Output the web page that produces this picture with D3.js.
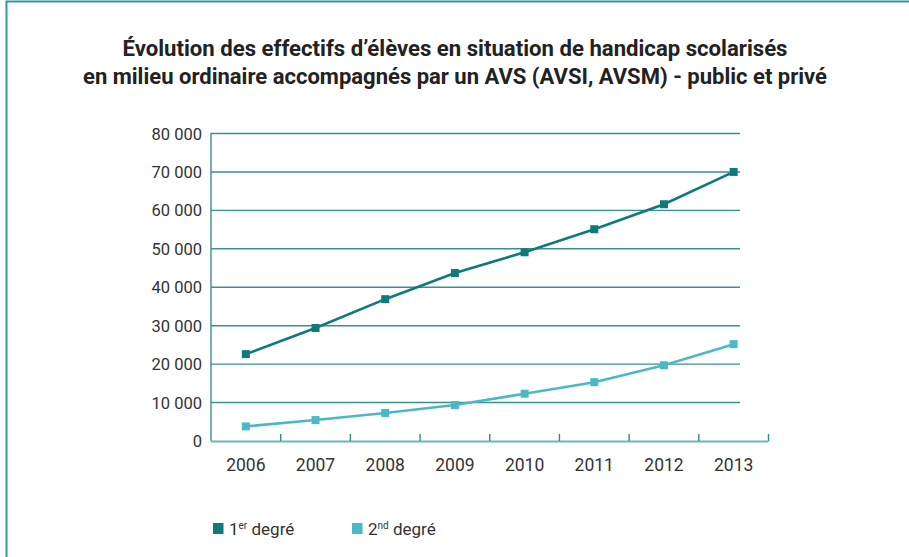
<!DOCTYPE html>
<html>
<head>
<meta charset="utf-8">
<script src="https://cdn.jsdelivr.net/npm/d3@7"></script>
<style>
  body { margin: 0; background: #fff; }
  svg { display: block; }
  text { font-family: Roboto, "Noto Sans", sans-serif; fill: #333; }
</style>
</head>
<body>
<svg id="chart" width="909" height="557"></svg>
<script>
// données
const annees = ['2006', '2007', '2008', '2009', '2010', '2011', '2012', '2013'];
const premierDegre = [22600, 29400, 36900, 43700, 49100, 55100, 61600, 70000];
const secondDegre = [3800, 5450, 7300, 9350, 12300, 15300, 19700, 25200];
const yTicks = [0, 10000, 20000, 30000, 40000, 50000, 60000, 70000, 80000];

const TITRE = [
  'Évolution des effectifs d’élèves en situation de handicap scolarisés',
  'en milieu ordinaire accompagnés par un AVS (AVSI, AVSM) - public et privé'
];

const FONCE = '#10797a';
const CLAIR = '#4bb9c5';
const GRILLE = '#3a8f8f';

const $svg = d3.select('#chart');

// cadre (haut + gauche)
$svg.append('path')
  .attr('d', 'M6.5,557 V1.5 H909')
  .attr('fill', 'none')
  .attr('stroke', '#2f9a9a')
  .attr('stroke-width', 2);

// titre
$svg.selectAll('.titre')
  .data(TITRE)
  .enter()
  .append('text')
  .attr('class', 'titre')
  .attr('x', 455)
  .attr('y', (d, i) => 56 + i * 28)
  .attr('text-anchor', 'middle')
  .attr('font-weight', 'bold')
  .attr('font-size', 21.5)
  .attr('textLength', (d, i) => i === 0 ? 665 : 744)
  .attr('lengthAdjust', 'spacingAndGlyphs')
  .style('fill', '#222')
  .text(d => d);

const m = { left: 211, right: 768.5, top: 133.5, bottom: 441 };

const x = d3.scaleBand().domain(annees).range([m.left, m.right]);
const y = d3.scaleLinear().domain([0, 80000]).range([m.bottom, m.top]);

const fmt = v => d3.format(',')(v).replace(/,/g, ' ');

// lignes de grille
$svg.append('g')
  .selectAll('line')
  .data(yTicks.filter(d => d > 0))
  .enter()
  .append('line')
  .attr('x1', m.left)
  .attr('x2', 740)
  .attr('y1', d => y(d))
  .attr('y2', d => y(d))
  .attr('stroke', GRILLE)
  .attr('stroke-width', 1.4);

// axe vertical
$svg.append('line')
  .attr('x1', m.left).attr('x2', m.left)
  .attr('y1', m.top - 0.7).attr('y2', m.bottom)
  .attr('stroke', GRILLE)
  .attr('stroke-width', 1.4);

// étiquettes y
$svg.append('g')
  .selectAll('text')
  .data(yTicks)
  .enter()
  .append('text')
  .attr('x', 202)
  .attr('y', d => y(d) + 6)
  .attr('text-anchor', 'end')
  .attr('font-size', 16.5)
  .text(fmt);

// axe horizontal
const xAxis = d3.axisBottom(x).tickSize(0).tickPadding(18);
const $gx = $svg.append('g')
  .attr('transform', `translate(0,${m.bottom})`)
  .call(xAxis);
$gx.select('.domain')
  .attr('d', `M${m.left},0.5H${m.right}`)
  .attr('stroke', '#6fb7b7')
  .attr('stroke-width', 2.2);
$gx.selectAll('.tick text')
  .attr('font-size', 17.5)
  .attr('font-family', 'Roboto, "Noto Sans", sans-serif')
  .style('fill', '#333');

// petites graduations entre catégories
$gx.selectAll('.sep')
  .data(annees)
  .enter()
  .append('line')
  .attr('class', 'sep')
  .attr('x1', d => x(d) + x.bandwidth())
  .attr('x2', d => x(d) + x.bandwidth())
  .attr('y1', 0)
  .attr('y2', -7)
  .attr('stroke', '#2f8a8a')
  .attr('stroke-width', 1.4);

// séries
const series = [
  { nom: '1er', valeurs: premierDegre, couleur: FONCE },
  { nom: '2nd', valeurs: secondDegre, couleur: CLAIR }
];

const line = d3.line()
  .x((d, i) => x(annees[i]) + x.bandwidth() / 2)
  .y(d => y(d));

series.forEach(s => {
  $svg.append('path')
    .datum(s.valeurs)
    .attr('d', line)
    .attr('fill', 'none')
    .attr('stroke', s.couleur)
    .attr('stroke-width', 2.6);

  $svg.append('g')
    .selectAll('rect')
    .data(s.valeurs)
    .enter()
    .append('rect')
    .attr('x', (d, i) => x(annees[i]) + x.bandwidth() / 2 - 4)
    .attr('y', d => y(d) - 4)
    .attr('width', 8)
    .attr('height', 8)
    .attr('fill', s.couleur);
});

// légende
const legende = [
  { base: '1', sup: 'er', couleur: FONCE, x: 213 },
  { base: '2', sup: 'nd', couleur: CLAIR, x: 352 }
];
const $leg = $svg.append('g')
  .selectAll('g')
  .data(legende)
  .enter()
  .append('g')
  .attr('transform', d => `translate(${d.x},523)`);
$leg.append('rect')
  .attr('width', 10.5)
  .attr('height', 11)
  .attr('fill', d => d.couleur);
const $t = $leg.append('text')
  .attr('x', 16)
  .attr('y', 11.5)
  .attr('font-size', 17);
$t.append('tspan').text(d => d.base);
$t.append('tspan').attr('font-size', 10).attr('dy', -6).text(d => d.sup);
$t.append('tspan').attr('dy', 6).text(' degré');
</script>
</body>
</html>
